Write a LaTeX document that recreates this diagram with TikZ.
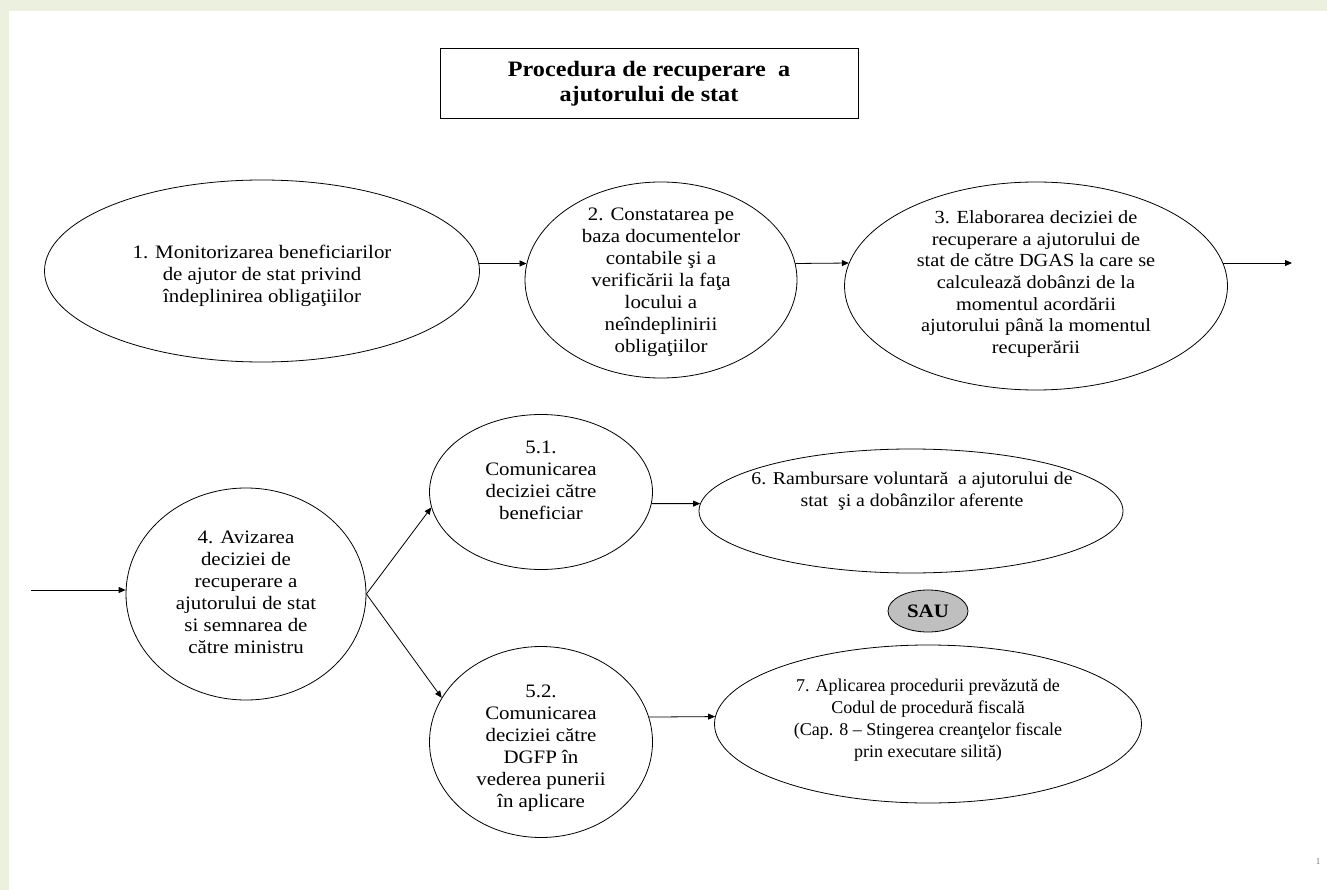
\documentclass[tikz,border=0pt]{standalone}
\usepackage{fontspec}
\setmainfont{Liberation Serif}[FakeStretch=1.1]
\newfontfamily\plainserif{Liberation Serif}
\usepackage{tikz}
\usetikzlibrary{arrows.meta,shapes.geometric}
\definecolor{pageband}{HTML}{EBF1DE}
\definecolor{saugray}{HTML}{BFBFBF}

\begin{document}
\begin{tikzpicture}[
    x=1pt, y=-1pt,
    stage/.style={ellipse, draw, line width=0.8pt, inner sep=0pt},
    stagetext/.style={align=center, inner sep=0pt, font=\fontsize{19}{22}\selectfont},
    arrow/.style={-{Triangle[length=7pt,width=6pt]}, line width=0.8pt}
]

% Page background
\fill[pageband] (0,0) rectangle (1327,890);
\fill[white] (9,11) rectangle (1327,890);
\useasboundingbox (0,0) rectangle (1327,890);

% Title
\node[draw, line width=1pt, minimum width=418pt, minimum height=70pt, align=center,
      font=\bfseries\fontsize{22}{25}\selectfont] (title) at (649,84)
      {Procedura de recuperare \ a\\ajutorului de stat};

% First row
\node[stage, minimum width=435pt, minimum height=182pt] (monitoring) at (262,271) {};
\node[stagetext] (monitoring_text) at (262,276)
      {1. Monitorizarea beneficiarilor\\de ajutor de stat privind\\îndeplinirea obligaţiilor};

\node[stage, minimum width=272pt, minimum height=196pt] (findings) at (661,280) {};
\node[stagetext] (findings_text) at (661,282)
      {2. Constatarea pe\\baza documentelor\\contabile şi a\\verificării la faţa\\locului a\\neîndeplinirii\\obligaţiilor};

\node[stage, minimum width=383pt, minimum height=208pt] (decision) at (1036,286) {};
\node[stagetext, font=\fontsize{18.5}{21.7}\selectfont] (decision_text) at (1036,284)
      {3. Elaborarea deciziei de\\recuperare a ajutorului de\\stat de către DGAS la care se\\calculează dobânzi de la\\momentul acordării\\ajutorului până la momentul\\recuperării};

% Second row
\node[stage, minimum width=240pt, minimum height=212pt] (approval) at (246,594) {};
\node[stagetext] (approval_text) at (246,592)
      {4. Avizarea\\deciziei de\\recuperare a\\ajutorului de stat\\si semnarea de\\către ministru};

\node[stage, minimum width=223pt, minimum height=155pt] (notify_beneficiary) at (541,492) {};
\node[stagetext] (notify_beneficiary_text) at (541,480)
      {5.1.\\Comunicarea\\deciziei către\\beneficiar};

\node[stage, minimum width=223pt, minimum height=191pt] (notify_dgfp) at (541,742) {};
\node[stagetext] (notify_dgfp_text) at (541,748)
      {5.2.\\Comunicarea\\deciziei către\\DGFP în\\vederea punerii\\în aplicare};

\node[stage, minimum width=424pt, minimum height=124pt] (voluntary_refund) at (911,511) {};
\node[stagetext, font=\fontsize{18}{22}\selectfont] (voluntary_refund_text) at (912,491)
      {6. Rambursare voluntară \ a ajutorului de\\stat \ şi a dobânzilor aferente};

\node[stage, fill=saugray, minimum width=80pt, minimum height=42pt,
      font=\bfseries\fontsize{19}{22}\selectfont] (or_choice) at (928,611) {SAU};

\node[stage, minimum width=427pt, minimum height=158pt] (enforcement) at (928,724) {};
\node[stagetext, font=\plainserif\fontsize{18}{22}\selectfont] (enforcement_text) at (928,720)
      {7. Aplicarea procedurii prevăzută de\\Codul de procedură fiscală\\(Cap. 8 – Stingerea creanţelor fiscale\\prin executare silită)};

% Page number
\node[text=gray, font=\fontsize{9}{10}\selectfont] (page_number) at (1318,862) {1};

% Free ends
\coordinate (exit) at (1292,262);
\coordinate (entry) at (31,590);

% Flow
\draw[arrow] (monitoring.2) -- (findings.173);
\draw[arrow] (findings.7) -- (decision.173);
\draw[arrow] (decision.7) -- (decision.7 -| exit);
\draw[arrow] (entry) -- (entry -| approval.west);
\draw[arrow] (approval.east) -- (notify_beneficiary.188);
\draw[arrow] (approval.east) -- (notify_dgfp.156);
\draw[arrow] (notify_beneficiary.-6) -- (voluntary_refund.178);
\draw[arrow] (notify_dgfp.13) -- (enforcement.178);

\end{tikzpicture}
\end{document}
